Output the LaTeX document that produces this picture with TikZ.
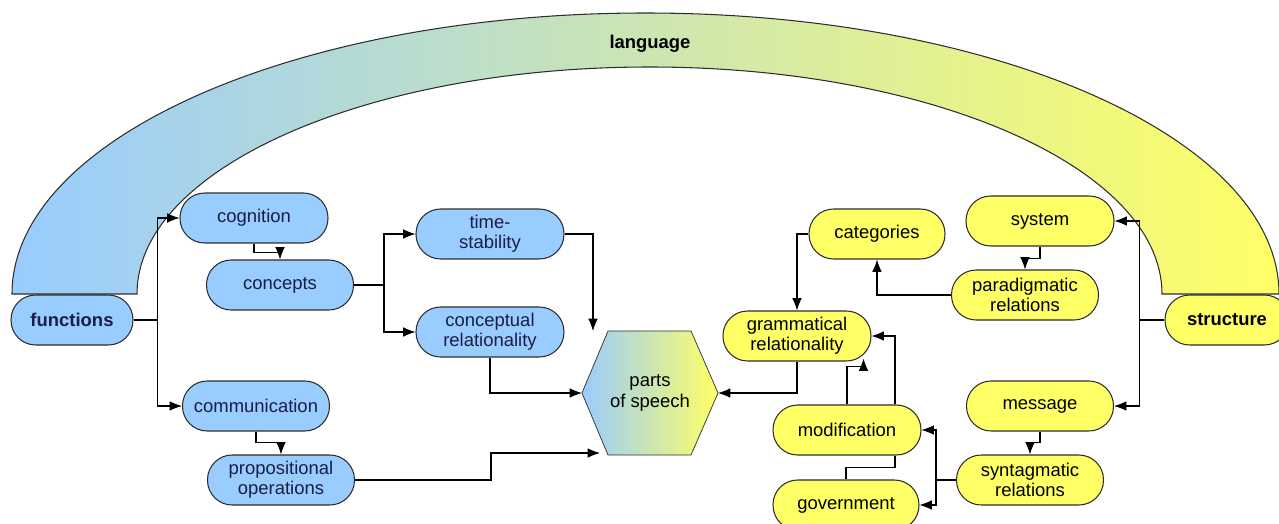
\documentclass[tikz,border=0pt]{standalone}
\usepackage{fontspec}
\setmainfont{Liberation Sans}
\usepackage{tikz}
\usetikzlibrary{arrows.meta}
\usetikzlibrary{calc}
\usetikzlibrary{backgrounds}

\definecolor{boxblue}{RGB}{153,204,255}
\definecolor{boxyellow}{RGB}{255,255,102}
\definecolor{edgegray}{RGB}{45,45,45}
\definecolor{navytext}{RGB}{25,30,70}

\begin{document}
\begin{tikzpicture}[x=0.02cm,y=-0.02cm,>={Latex[length=7pt,width=5.5pt]},
	line width=0.6pt,
	main node/.style={rectangle,rounded corners=14pt,draw=edgegray,align=center,
		font=\fontsize{10.5}{11.5}\selectfont,minimum width=2.96cm,minimum height=1cm,inner sep=1pt},
	blue node/.style={main node,fill=boxblue,text=navytext},
	yellow node/.style={main node,fill=boxyellow,text=black},
	bold/.style={font=\fontsize{10.5}{11.5}\selectfont\bfseries}]
	
	\useasboundingbox (0,0) rectangle (1279,524);
	
	% the arch
	\draw[draw=edgegray,left color=boxblue,right color=boxyellow]
	(12,294) arc[start angle=180,end angle=360,x radius=633.5,y radius=281]
	-- (1162,294) arc[start angle=0,end angle=-180,x radius=512.5,y radius=227] -- cycle;
	\node[bold,text=black] (language) at (650,44) {language};
	
	% functions side
	\node[blue node,bold,text=navytext,minimum width=2.44cm] (functions) at (72,320) {functions};
	\node[blue node] (cognition) at (254,218) {cognition};
	\node[blue node,minimum width=2.94cm] (concepts) at (280,285) {concepts};
	\node[blue node,minimum width=2.94cm] (communication) at (256,406) {communication};
	\node[blue node,minimum width=2.94cm] (propops) at (281,480) {propositional\\operations};
	\node[blue node] (timestab) at (490,234) {time-\\stability};
	\node[blue node] (concrel) at (490,332) {conceptual\\relationality};
	
	% parts of speech
	\node[main node,draw=none,rounded corners=0pt,minimum width=2.7cm,minimum height=2.46cm] (pos) at (650,393) {parts\\of speech};
	\begin{scope}[on background layer]
		\draw[draw=edgegray,left color=boxblue,right color=boxyellow]
		(pos.west) -- ($(pos.north west)+(26,0)$) -- ($(pos.north east)+(-27,0)$)
		-- (pos.east) -- ($(pos.south east)+(-27,0)$) -- ($(pos.south west)+(26,0)$) -- cycle;
	\end{scope}
	
	% structure side
	\node[yellow node,minimum width=2.72cm] (categories) at (877,234) {categories};
	\node[yellow node] (system) at (1040,221) {system};
	\node[yellow node,minimum width=2.94cm] (paradig) at (1025,295) {paradigmatic\\relations};
	\node[yellow node] (grammatical) at (797,336) {grammatical\\relationality};
	\node[yellow node] (modification) at (847,430) {modification};
	\node[yellow node,minimum width=2.92cm] (government) at (846,505) {government};
	\node[yellow node,bold,minimum width=2.48cm] (structure) at (1227,320) {structure};
	\node[yellow node,minimum width=2.94cm] (message) at (1040,406) {message};
	\node[yellow node,minimum width=2.94cm] (syntag) at (1030,480) {syntagmatic\\relations};
	
	% connectors, left
	\draw[->] (functions.east) -- ++(24,0) |- (cognition.west);
	\draw[->] (functions.east) -- ++(24,0) |- (communication.west);
	\draw[->] (cognition.south) -- ++(0,9) -| (concepts.north);
	\draw[->] (communication.south) -- ++(0,11) -| (propops.north);
	\draw[->] (concepts.east) -- ++(30,0) |- (timestab.west);
	\draw[->] (concepts.east) -- ++(30,0) |- (concrel.west);
	\draw[->] (timestab.east) -| ($(pos.north west)+(11,0)$);
	\draw[->] (concrel.south) |- (pos.west);
	\draw[->] (propops.east) -- ++(136,0) |- ($(pos.south west)+(18,-2)$);
	
	% connectors, right
	\draw[->] (structure.west) -- ++(-25,0) |- (system.east);
	\draw[->] (structure.west) -- ++(-25,0) |- (message.east);
	\draw[->] (system.south) -- ++(0,12) -| (paradig.north);
	\draw[->] (message.south) -- ++(0,11) -| (syntag.north);
	\draw[->] (paradig.west) -| (categories.south);
	\draw[->] (categories.west) -| (grammatical.north);
	\draw[->] (grammatical.south) |- (pos.east);
	\draw[->] (modification.north) -- ++(0,-38) -| ($(grammatical.south east)+(-8,-3)$);
	\draw[->] ($(modification.north)+(48,0)$) |- (grammatical.east);
	\draw ($(modification.south)+(48,0)$) -- ++(0,12) -| (government.north);
	\draw[->] (syntag.west) -- ++(-20,0) |- (modification.east);
	\draw[->] (syntag.west) -- ++(-20,0) |- (government.east);
	
\end{tikzpicture}
\end{document}
